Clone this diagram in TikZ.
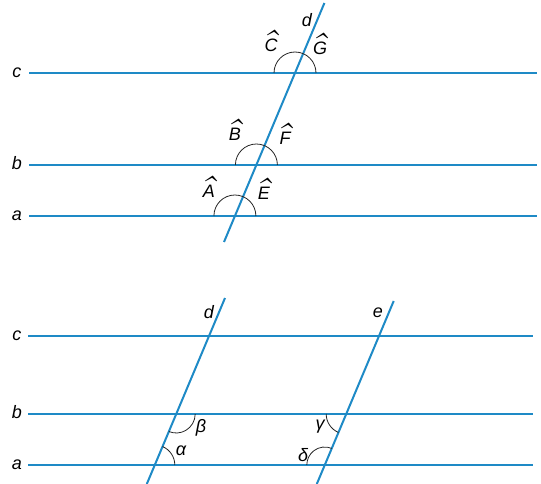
\documentclass[tikz,border=0pt]{standalone}
\usepackage{fontspec}
\setmainfont{Liberation Sans}
\newfontfamily\hatfont{Latin Modern Roman}

\definecolor{parblue}{RGB}{30,138,198}
% capital letter with a thin hat over it
\newcommand{\hatcap}[1]{\ooalign{#1\cr\hidewidth\kern-7pt\raisebox{-2pt}{\scalebox{2.4}[1.9]{\hatfont\char"02C6}}\hidewidth\cr}}

\tikzset{
	parline/.style={draw=parblue, line width=2pt},
	anglearc/.style={draw=black!85, line width=0.8pt},
	linelabel/.style={font=\fontsize{18}{20}\selectfont\itshape, inner sep=0pt, anchor=mid},
	anglelabel/.style={font=\fontsize{18}{20}\selectfont\itshape, inner sep=0pt},
}

\begin{document}
\begin{tikzpicture}[x=1pt, y=-1pt]
	\useasboundingbox (0,0) rectangle (541,484);

	% upper figure: c, b, a cut by d
	\foreach \nm/\y in {c/73, b/165, a/216} {
		\node[linelabel] (top\nm) at (17,\y+2) {\nm};
		\coordinate (top\nm s) at (29,\y);
		\coordinate (top\nm e) at (537,\y);
		\draw[parline] (top\nm s) -- (top\nm e);
	}
	\coordinate (dtop) at (324.4,3);
	\coordinate (dbot) at (224,242);
	\draw[parline] (dbot) -- (dtop);
	\node[anglelabel] (dlab) at (307,20) {d};

	\coordinate (Xc) at (295,73);
	\coordinate (Xb) at (256.4,165);
	\coordinate (Xa) at (234.9,216);
	\foreach \p in {Xc, Xb, Xa}
		\draw[anglearc] (\p) ++(0:21pt) arc[start angle=0, end angle=180, radius=21pt];

	\node[anglelabel] (angC) at (271,46) {\hatcap{C}};
	\node[anglelabel] (angG) at (320,49) {\hatcap{G}};
	\node[anglelabel] (angB) at (235,135) {\hatcap{B}};
	\node[anglelabel] (angF) at (285,139) {\hatcap{F}};
	\node[anglelabel] (angA) at (209,192) {\hatcap{A}};
	\node[anglelabel] (angE) at (264,194) {\hatcap{E}};

	% lower figure: c, b, a cut by d and e
	\foreach \nm/\y in {c/336, b/414, a/465} {
		\node[linelabel] (bot\nm) at (17,\y+2) {\nm};
		\coordinate (bot\nm s) at (28,\y);
		\coordinate (bot\nm e) at (533,\y);
		\draw[parline] (bot\nm s) -- (bot\nm e);
	}
	\coordinate (d2top) at (225,298);
	\coordinate (d2bot) at (146.8,484);
	\coordinate (etop) at (393.7,301);
	\coordinate (ebot) at (316.8,484);
	\draw[parline] (d2bot) -- (d2top);
	\draw[parline] (ebot) -- (etop);
	\node[anglelabel] (d2lab) at (209,312) {d};
	\node[anglelabel] (elab) at (378,313) {e};

	\coordinate (Ydb) at (176.2,414);
	\coordinate (Yda) at (154.8,465);
	\coordinate (Yeb) at (346.2,414);
	\coordinate (Yea) at (324.8,465);
	\draw[anglearc] (Ydb) ++(0:19pt) arc[start angle=0, end angle=-112.8, radius=19pt];
	\draw[anglearc] (Yda) ++(0:20pt) arc[start angle=0, end angle=67.2, radius=20pt];
	\draw[anglearc] (Yeb) ++(180:20pt) arc[start angle=180, end angle=247.2, radius=20pt];
	\draw[anglearc] (Yea) ++(67.2:18pt) arc[start angle=67.2, end angle=180, radius=18pt];

	\node[anglelabel] (beta) at (201,428) {β};
	\node[anglelabel] (alpha) at (181,451) {α};
	\node[anglelabel] (gamma) at (320,427) {γ};
	\node[anglelabel] (delta) at (303,455) {δ};
\end{tikzpicture}
\end{document}
